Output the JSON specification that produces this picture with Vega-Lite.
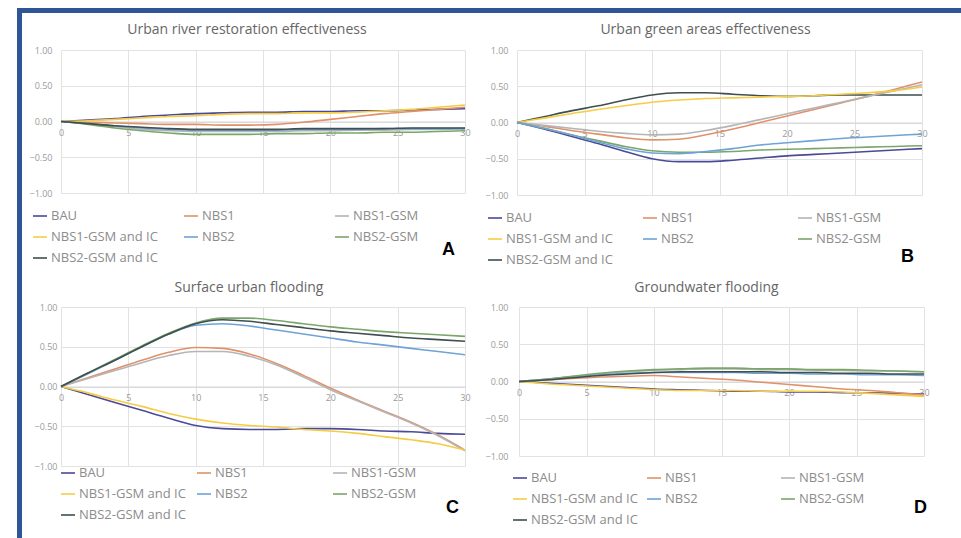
{
"$schema": "https://vega.github.io/schema/vega-lite/v6.json",
"padding": {"left": 17, "top": 8, "right": 0, "bottom": 0},
"background": "white",
"datasets": {
"A": [
{"s":"BAU","t":0,"v":0},{"s":"BAU","t":2,"v":0.02},{"s":"BAU","t":4,"v":0.04},{"s":"BAU","t":6,"v":0.07},{"s":"BAU","t":8,"v":0.09},{"s":"BAU","t":10,"v":0.11},{"s":"BAU","t":12,"v":0.12},{"s":"BAU","t":14,"v":0.13},{"s":"BAU","t":16,"v":0.13},{"s":"BAU","t":18,"v":0.14},{"s":"BAU","t":20,"v":0.14},{"s":"BAU","t":22,"v":0.15},{"s":"BAU","t":24,"v":0.15},{"s":"BAU","t":26,"v":0.16},{"s":"BAU","t":28,"v":0.17},{"s":"BAU","t":30,"v":0.18},
{"s":"NBS1","t":0,"v":0},{"s":"NBS1","t":2,"v":-0.01},{"s":"NBS1","t":4,"v":-0.02},{"s":"NBS1","t":6,"v":-0.03},{"s":"NBS1","t":8,"v":-0.04},{"s":"NBS1","t":10,"v":-0.04},{"s":"NBS1","t":12,"v":-0.05},{"s":"NBS1","t":14,"v":-0.05},{"s":"NBS1","t":16,"v":-0.04},{"s":"NBS1","t":18,"v":-0.01},{"s":"NBS1","t":20,"v":0.03},{"s":"NBS1","t":22,"v":0.07},{"s":"NBS1","t":24,"v":0.11},{"s":"NBS1","t":26,"v":0.14},{"s":"NBS1","t":28,"v":0.17},{"s":"NBS1","t":30,"v":0.2},
{"s":"NBS1-GSM","t":0,"v":0},{"s":"NBS1-GSM","t":2,"v":-0.03},{"s":"NBS1-GSM","t":4,"v":-0.07},{"s":"NBS1-GSM","t":6,"v":-0.11},{"s":"NBS1-GSM","t":8,"v":-0.13},{"s":"NBS1-GSM","t":10,"v":-0.14},{"s":"NBS1-GSM","t":12,"v":-0.14},{"s":"NBS1-GSM","t":14,"v":-0.14},{"s":"NBS1-GSM","t":16,"v":-0.14},{"s":"NBS1-GSM","t":18,"v":-0.13},{"s":"NBS1-GSM","t":20,"v":-0.13},{"s":"NBS1-GSM","t":22,"v":-0.12},{"s":"NBS1-GSM","t":24,"v":-0.12},{"s":"NBS1-GSM","t":26,"v":-0.11},{"s":"NBS1-GSM","t":28,"v":-0.11},{"s":"NBS1-GSM","t":30,"v":-0.1},
{"s":"NBS1-GSM and IC","t":0,"v":0},{"s":"NBS1-GSM and IC","t":2,"v":0.01},{"s":"NBS1-GSM and IC","t":4,"v":0.03},{"s":"NBS1-GSM and IC","t":6,"v":0.05},{"s":"NBS1-GSM and IC","t":8,"v":0.07},{"s":"NBS1-GSM and IC","t":10,"v":0.08},{"s":"NBS1-GSM and IC","t":12,"v":0.1},{"s":"NBS1-GSM and IC","t":14,"v":0.11},{"s":"NBS1-GSM and IC","t":16,"v":0.11},{"s":"NBS1-GSM and IC","t":18,"v":0.12},{"s":"NBS1-GSM and IC","t":20,"v":0.12},{"s":"NBS1-GSM and IC","t":22,"v":0.13},{"s":"NBS1-GSM and IC","t":24,"v":0.15},{"s":"NBS1-GSM and IC","t":26,"v":0.17},{"s":"NBS1-GSM and IC","t":28,"v":0.2},{"s":"NBS1-GSM and IC","t":30,"v":0.23},
{"s":"NBS2","t":0,"v":0},{"s":"NBS2","t":2,"v":-0.03},{"s":"NBS2","t":4,"v":-0.06},{"s":"NBS2","t":6,"v":-0.09},{"s":"NBS2","t":8,"v":-0.11},{"s":"NBS2","t":10,"v":-0.12},{"s":"NBS2","t":12,"v":-0.12},{"s":"NBS2","t":14,"v":-0.12},{"s":"NBS2","t":16,"v":-0.12},{"s":"NBS2","t":18,"v":-0.11},{"s":"NBS2","t":20,"v":-0.11},{"s":"NBS2","t":22,"v":-0.11},{"s":"NBS2","t":24,"v":-0.1},{"s":"NBS2","t":26,"v":-0.1},{"s":"NBS2","t":28,"v":-0.1},{"s":"NBS2","t":30,"v":-0.1},
{"s":"NBS2-GSM","t":0,"v":0},{"s":"NBS2-GSM","t":2,"v":-0.04},{"s":"NBS2-GSM","t":4,"v":-0.09},{"s":"NBS2-GSM","t":6,"v":-0.13},{"s":"NBS2-GSM","t":8,"v":-0.16},{"s":"NBS2-GSM","t":10,"v":-0.18},{"s":"NBS2-GSM","t":12,"v":-0.18},{"s":"NBS2-GSM","t":14,"v":-0.18},{"s":"NBS2-GSM","t":16,"v":-0.17},{"s":"NBS2-GSM","t":18,"v":-0.17},{"s":"NBS2-GSM","t":20,"v":-0.16},{"s":"NBS2-GSM","t":22,"v":-0.16},{"s":"NBS2-GSM","t":24,"v":-0.15},{"s":"NBS2-GSM","t":26,"v":-0.15},{"s":"NBS2-GSM","t":28,"v":-0.14},{"s":"NBS2-GSM","t":30,"v":-0.13},
{"s":"NBS2-GSM and IC","t":0,"v":0},{"s":"NBS2-GSM and IC","t":2,"v":-0.03},{"s":"NBS2-GSM and IC","t":4,"v":-0.06},{"s":"NBS2-GSM and IC","t":6,"v":-0.08},{"s":"NBS2-GSM and IC","t":8,"v":-0.1},{"s":"NBS2-GSM and IC","t":10,"v":-0.11},{"s":"NBS2-GSM and IC","t":12,"v":-0.11},{"s":"NBS2-GSM and IC","t":14,"v":-0.11},{"s":"NBS2-GSM and IC","t":16,"v":-0.11},{"s":"NBS2-GSM and IC","t":18,"v":-0.1},{"s":"NBS2-GSM and IC","t":20,"v":-0.1},{"s":"NBS2-GSM and IC","t":22,"v":-0.1},{"s":"NBS2-GSM and IC","t":24,"v":-0.1},{"s":"NBS2-GSM and IC","t":26,"v":-0.09},{"s":"NBS2-GSM and IC","t":28,"v":-0.09},{"s":"NBS2-GSM and IC","t":30,"v":-0.09}
],
"B": [
{"s":"NBS2-GSM and IC","t":0,"v":0},{"s":"NBS2-GSM and IC","t":2,"v":0.08},{"s":"NBS2-GSM and IC","t":4,"v":0.16},{"s":"NBS2-GSM and IC","t":6,"v":0.23},{"s":"NBS2-GSM and IC","t":8,"v":0.31},{"s":"NBS2-GSM and IC","t":10,"v":0.38},{"s":"NBS2-GSM and IC","t":12,"v":0.41},{"s":"NBS2-GSM and IC","t":14,"v":0.41},{"s":"NBS2-GSM and IC","t":16,"v":0.39},{"s":"NBS2-GSM and IC","t":18,"v":0.37},{"s":"NBS2-GSM and IC","t":20,"v":0.36},{"s":"NBS2-GSM and IC","t":22,"v":0.37},{"s":"NBS2-GSM and IC","t":24,"v":0.38},{"s":"NBS2-GSM and IC","t":26,"v":0.38},{"s":"NBS2-GSM and IC","t":28,"v":0.38},{"s":"NBS2-GSM and IC","t":30,"v":0.38},
{"s":"NBS1","t":0,"v":0},{"s":"NBS1","t":2,"v":-0.05},{"s":"NBS1","t":4,"v":-0.11},{"s":"NBS1","t":6,"v":-0.16},{"s":"NBS1","t":8,"v":-0.21},{"s":"NBS1","t":10,"v":-0.24},{"s":"NBS1","t":12,"v":-0.23},{"s":"NBS1","t":14,"v":-0.17},{"s":"NBS1","t":16,"v":-0.09},{"s":"NBS1","t":18,"v":0},{"s":"NBS1","t":20,"v":0.09},{"s":"NBS1","t":22,"v":0.18},{"s":"NBS1","t":24,"v":0.27},{"s":"NBS1","t":26,"v":0.36},{"s":"NBS1","t":28,"v":0.46},{"s":"NBS1","t":30,"v":0.56},
{"s":"NBS1-GSM","t":0,"v":0},{"s":"NBS1-GSM","t":2,"v":-0.04},{"s":"NBS1-GSM","t":4,"v":-0.08},{"s":"NBS1-GSM","t":6,"v":-0.12},{"s":"NBS1-GSM","t":8,"v":-0.15},{"s":"NBS1-GSM","t":10,"v":-0.17},{"s":"NBS1-GSM","t":12,"v":-0.16},{"s":"NBS1-GSM","t":14,"v":-0.11},{"s":"NBS1-GSM","t":16,"v":-0.04},{"s":"NBS1-GSM","t":18,"v":0.04},{"s":"NBS1-GSM","t":20,"v":0.12},{"s":"NBS1-GSM","t":22,"v":0.2},{"s":"NBS1-GSM","t":24,"v":0.28},{"s":"NBS1-GSM","t":26,"v":0.36},{"s":"NBS1-GSM","t":28,"v":0.44},{"s":"NBS1-GSM","t":30,"v":0.52},
{"s":"NBS1-GSM and IC","t":0,"v":0},{"s":"NBS1-GSM and IC","t":2,"v":0.06},{"s":"NBS1-GSM and IC","t":4,"v":0.12},{"s":"NBS1-GSM and IC","t":6,"v":0.18},{"s":"NBS1-GSM and IC","t":8,"v":0.23},{"s":"NBS1-GSM and IC","t":10,"v":0.28},{"s":"NBS1-GSM and IC","t":12,"v":0.31},{"s":"NBS1-GSM and IC","t":14,"v":0.33},{"s":"NBS1-GSM and IC","t":16,"v":0.34},{"s":"NBS1-GSM and IC","t":18,"v":0.35},{"s":"NBS1-GSM and IC","t":20,"v":0.36},{"s":"NBS1-GSM and IC","t":22,"v":0.37},{"s":"NBS1-GSM and IC","t":24,"v":0.39},{"s":"NBS1-GSM and IC","t":26,"v":0.41},{"s":"NBS1-GSM and IC","t":28,"v":0.44},{"s":"NBS1-GSM and IC","t":30,"v":0.49},
{"s":"BAU","t":0,"v":0},{"s":"BAU","t":2,"v":-0.09},{"s":"BAU","t":4,"v":-0.19},{"s":"BAU","t":6,"v":-0.29},{"s":"BAU","t":8,"v":-0.4},{"s":"BAU","t":10,"v":-0.5},{"s":"BAU","t":12,"v":-0.54},{"s":"BAU","t":14,"v":-0.54},{"s":"BAU","t":16,"v":-0.52},{"s":"BAU","t":18,"v":-0.49},{"s":"BAU","t":20,"v":-0.46},{"s":"BAU","t":22,"v":-0.44},{"s":"BAU","t":24,"v":-0.42},{"s":"BAU","t":26,"v":-0.4},{"s":"BAU","t":28,"v":-0.38},{"s":"BAU","t":30,"v":-0.36},
{"s":"NBS2-GSM","t":0,"v":0},{"s":"NBS2-GSM","t":2,"v":-0.08},{"s":"NBS2-GSM","t":4,"v":-0.17},{"s":"NBS2-GSM","t":6,"v":-0.25},{"s":"NBS2-GSM","t":8,"v":-0.33},{"s":"NBS2-GSM","t":10,"v":-0.39},{"s":"NBS2-GSM","t":12,"v":-0.41},{"s":"NBS2-GSM","t":14,"v":-0.41},{"s":"NBS2-GSM","t":16,"v":-0.4},{"s":"NBS2-GSM","t":18,"v":-0.38},{"s":"NBS2-GSM","t":20,"v":-0.37},{"s":"NBS2-GSM","t":22,"v":-0.36},{"s":"NBS2-GSM","t":24,"v":-0.35},{"s":"NBS2-GSM","t":26,"v":-0.34},{"s":"NBS2-GSM","t":28,"v":-0.33},{"s":"NBS2-GSM","t":30,"v":-0.32},
{"s":"NBS2","t":0,"v":0},{"s":"NBS2","t":2,"v":-0.08},{"s":"NBS2","t":4,"v":-0.17},{"s":"NBS2","t":6,"v":-0.27},{"s":"NBS2","t":8,"v":-0.36},{"s":"NBS2","t":10,"v":-0.42},{"s":"NBS2","t":12,"v":-0.43},{"s":"NBS2","t":14,"v":-0.4},{"s":"NBS2","t":16,"v":-0.36},{"s":"NBS2","t":18,"v":-0.31},{"s":"NBS2","t":20,"v":-0.28},{"s":"NBS2","t":22,"v":-0.25},{"s":"NBS2","t":24,"v":-0.22},{"s":"NBS2","t":26,"v":-0.2},{"s":"NBS2","t":28,"v":-0.18},{"s":"NBS2","t":30,"v":-0.16}
],
"C": [
{"s":"BAU","t":0,"v":0},{"s":"BAU","t":2,"v":-0.1},{"s":"BAU","t":4,"v":-0.2},{"s":"BAU","t":6,"v":-0.3},{"s":"BAU","t":8,"v":-0.4},{"s":"BAU","t":10,"v":-0.49},{"s":"BAU","t":12,"v":-0.53},{"s":"BAU","t":14,"v":-0.54},{"s":"BAU","t":16,"v":-0.54},{"s":"BAU","t":18,"v":-0.53},{"s":"BAU","t":20,"v":-0.53},{"s":"BAU","t":22,"v":-0.54},{"s":"BAU","t":24,"v":-0.56},{"s":"BAU","t":26,"v":-0.57},{"s":"BAU","t":28,"v":-0.59},{"s":"BAU","t":30,"v":-0.6},
{"s":"NBS1","t":0,"v":0},{"s":"NBS1","t":2,"v":0.11},{"s":"NBS1","t":4,"v":0.22},{"s":"NBS1","t":6,"v":0.33},{"s":"NBS1","t":8,"v":0.43},{"s":"NBS1","t":10,"v":0.49},{"s":"NBS1","t":12,"v":0.48},{"s":"NBS1","t":14,"v":0.41},{"s":"NBS1","t":16,"v":0.29},{"s":"NBS1","t":18,"v":0.14},{"s":"NBS1","t":20,"v":-0.02},{"s":"NBS1","t":22,"v":-0.17},{"s":"NBS1","t":24,"v":-0.31},{"s":"NBS1","t":26,"v":-0.45},{"s":"NBS1","t":28,"v":-0.61},{"s":"NBS1","t":30,"v":-0.8},
{"s":"NBS1-GSM","t":0,"v":0},{"s":"NBS1-GSM","t":2,"v":0.1},{"s":"NBS1-GSM","t":4,"v":0.2},{"s":"NBS1-GSM","t":6,"v":0.3},{"s":"NBS1-GSM","t":8,"v":0.39},{"s":"NBS1-GSM","t":10,"v":0.44},{"s":"NBS1-GSM","t":12,"v":0.44},{"s":"NBS1-GSM","t":14,"v":0.38},{"s":"NBS1-GSM","t":16,"v":0.27},{"s":"NBS1-GSM","t":18,"v":0.12},{"s":"NBS1-GSM","t":20,"v":-0.04},{"s":"NBS1-GSM","t":22,"v":-0.18},{"s":"NBS1-GSM","t":24,"v":-0.32},{"s":"NBS1-GSM","t":26,"v":-0.46},{"s":"NBS1-GSM","t":28,"v":-0.62},{"s":"NBS1-GSM","t":30,"v":-0.81},
{"s":"NBS1-GSM and IC","t":0,"v":0},{"s":"NBS1-GSM and IC","t":2,"v":-0.08},{"s":"NBS1-GSM and IC","t":4,"v":-0.17},{"s":"NBS1-GSM and IC","t":6,"v":-0.25},{"s":"NBS1-GSM and IC","t":8,"v":-0.34},{"s":"NBS1-GSM and IC","t":10,"v":-0.41},{"s":"NBS1-GSM and IC","t":12,"v":-0.46},{"s":"NBS1-GSM and IC","t":14,"v":-0.49},{"s":"NBS1-GSM and IC","t":16,"v":-0.51},{"s":"NBS1-GSM and IC","t":18,"v":-0.54},{"s":"NBS1-GSM and IC","t":20,"v":-0.56},{"s":"NBS1-GSM and IC","t":22,"v":-0.59},{"s":"NBS1-GSM and IC","t":24,"v":-0.63},{"s":"NBS1-GSM and IC","t":26,"v":-0.67},{"s":"NBS1-GSM and IC","t":28,"v":-0.72},{"s":"NBS1-GSM and IC","t":30,"v":-0.8},
{"s":"NBS2","t":0,"v":0},{"s":"NBS2","t":2,"v":0.16},{"s":"NBS2","t":4,"v":0.33},{"s":"NBS2","t":6,"v":0.5},{"s":"NBS2","t":8,"v":0.66},{"s":"NBS2","t":10,"v":0.77},{"s":"NBS2","t":12,"v":0.79},{"s":"NBS2","t":14,"v":0.76},{"s":"NBS2","t":16,"v":0.71},{"s":"NBS2","t":18,"v":0.66},{"s":"NBS2","t":20,"v":0.61},{"s":"NBS2","t":22,"v":0.56},{"s":"NBS2","t":24,"v":0.52},{"s":"NBS2","t":26,"v":0.48},{"s":"NBS2","t":28,"v":0.44},{"s":"NBS2","t":30,"v":0.4},
{"s":"NBS2-GSM","t":0,"v":0},{"s":"NBS2-GSM","t":2,"v":0.17},{"s":"NBS2-GSM","t":4,"v":0.34},{"s":"NBS2-GSM","t":6,"v":0.51},{"s":"NBS2-GSM","t":8,"v":0.67},{"s":"NBS2-GSM","t":10,"v":0.8},{"s":"NBS2-GSM","t":12,"v":0.86},{"s":"NBS2-GSM","t":14,"v":0.86},{"s":"NBS2-GSM","t":16,"v":0.83},{"s":"NBS2-GSM","t":18,"v":0.79},{"s":"NBS2-GSM","t":20,"v":0.75},{"s":"NBS2-GSM","t":22,"v":0.72},{"s":"NBS2-GSM","t":24,"v":0.69},{"s":"NBS2-GSM","t":26,"v":0.67},{"s":"NBS2-GSM","t":28,"v":0.65},{"s":"NBS2-GSM","t":30,"v":0.63},
{"s":"NBS2-GSM and IC","t":0,"v":0},{"s":"NBS2-GSM and IC","t":2,"v":0.17},{"s":"NBS2-GSM and IC","t":4,"v":0.33},{"s":"NBS2-GSM and IC","t":6,"v":0.5},{"s":"NBS2-GSM and IC","t":8,"v":0.66},{"s":"NBS2-GSM and IC","t":10,"v":0.79},{"s":"NBS2-GSM and IC","t":12,"v":0.84},{"s":"NBS2-GSM and IC","t":14,"v":0.82},{"s":"NBS2-GSM and IC","t":16,"v":0.78},{"s":"NBS2-GSM and IC","t":18,"v":0.74},{"s":"NBS2-GSM and IC","t":20,"v":0.7},{"s":"NBS2-GSM and IC","t":22,"v":0.67},{"s":"NBS2-GSM and IC","t":24,"v":0.64},{"s":"NBS2-GSM and IC","t":26,"v":0.61},{"s":"NBS2-GSM and IC","t":28,"v":0.59},{"s":"NBS2-GSM and IC","t":30,"v":0.57}
],
"D": [
{"s":"BAU","t":0,"v":0},{"s":"BAU","t":2,"v":-0.02},{"s":"BAU","t":4,"v":-0.04},{"s":"BAU","t":6,"v":-0.06},{"s":"BAU","t":8,"v":-0.08},{"s":"BAU","t":10,"v":-0.1},{"s":"BAU","t":12,"v":-0.11},{"s":"BAU","t":14,"v":-0.12},{"s":"BAU","t":16,"v":-0.13},{"s":"BAU","t":18,"v":-0.13},{"s":"BAU","t":20,"v":-0.14},{"s":"BAU","t":22,"v":-0.14},{"s":"BAU","t":24,"v":-0.15},{"s":"BAU","t":26,"v":-0.15},{"s":"BAU","t":28,"v":-0.16},{"s":"BAU","t":30,"v":-0.17},
{"s":"NBS1","t":0,"v":0},{"s":"NBS1","t":2,"v":0.02},{"s":"NBS1","t":4,"v":0.04},{"s":"NBS1","t":6,"v":0.06},{"s":"NBS1","t":8,"v":0.07},{"s":"NBS1","t":10,"v":0.08},{"s":"NBS1","t":12,"v":0.06},{"s":"NBS1","t":14,"v":0.04},{"s":"NBS1","t":16,"v":0.02},{"s":"NBS1","t":18,"v":-0.01},{"s":"NBS1","t":20,"v":-0.04},{"s":"NBS1","t":22,"v":-0.07},{"s":"NBS1","t":24,"v":-0.1},{"s":"NBS1","t":26,"v":-0.12},{"s":"NBS1","t":28,"v":-0.15},{"s":"NBS1","t":30,"v":-0.18},
{"s":"NBS1-GSM","t":0,"v":0},{"s":"NBS1-GSM","t":2,"v":0.03},{"s":"NBS1-GSM","t":4,"v":0.07},{"s":"NBS1-GSM","t":6,"v":0.1},{"s":"NBS1-GSM","t":8,"v":0.13},{"s":"NBS1-GSM","t":10,"v":0.15},{"s":"NBS1-GSM","t":12,"v":0.16},{"s":"NBS1-GSM","t":14,"v":0.17},{"s":"NBS1-GSM","t":16,"v":0.17},{"s":"NBS1-GSM","t":18,"v":0.16},{"s":"NBS1-GSM","t":20,"v":0.16},{"s":"NBS1-GSM","t":22,"v":0.15},{"s":"NBS1-GSM","t":24,"v":0.15},{"s":"NBS1-GSM","t":26,"v":0.14},{"s":"NBS1-GSM","t":28,"v":0.14},{"s":"NBS1-GSM","t":30,"v":0.13},
{"s":"NBS1-GSM and IC","t":0,"v":0},{"s":"NBS1-GSM and IC","t":2,"v":-0.03},{"s":"NBS1-GSM and IC","t":4,"v":-0.05},{"s":"NBS1-GSM and IC","t":6,"v":-0.07},{"s":"NBS1-GSM and IC","t":8,"v":-0.09},{"s":"NBS1-GSM and IC","t":10,"v":-0.11},{"s":"NBS1-GSM and IC","t":12,"v":-0.12},{"s":"NBS1-GSM and IC","t":14,"v":-0.12},{"s":"NBS1-GSM and IC","t":16,"v":-0.12},{"s":"NBS1-GSM and IC","t":18,"v":-0.13},{"s":"NBS1-GSM and IC","t":20,"v":-0.13},{"s":"NBS1-GSM and IC","t":22,"v":-0.13},{"s":"NBS1-GSM and IC","t":24,"v":-0.14},{"s":"NBS1-GSM and IC","t":26,"v":-0.16},{"s":"NBS1-GSM and IC","t":28,"v":-0.18},{"s":"NBS1-GSM and IC","t":30,"v":-0.2},
{"s":"NBS2","t":0,"v":0},{"s":"NBS2","t":2,"v":0.03},{"s":"NBS2","t":4,"v":0.06},{"s":"NBS2","t":6,"v":0.09},{"s":"NBS2","t":8,"v":0.11},{"s":"NBS2","t":10,"v":0.12},{"s":"NBS2","t":12,"v":0.12},{"s":"NBS2","t":14,"v":0.12},{"s":"NBS2","t":16,"v":0.12},{"s":"NBS2","t":18,"v":0.11},{"s":"NBS2","t":20,"v":0.11},{"s":"NBS2","t":22,"v":0.1},{"s":"NBS2","t":24,"v":0.1},{"s":"NBS2","t":26,"v":0.09},{"s":"NBS2","t":28,"v":0.09},{"s":"NBS2","t":30,"v":0.08},
{"s":"NBS2-GSM","t":0,"v":0},{"s":"NBS2-GSM","t":2,"v":0.03},{"s":"NBS2-GSM","t":4,"v":0.07},{"s":"NBS2-GSM","t":6,"v":0.11},{"s":"NBS2-GSM","t":8,"v":0.14},{"s":"NBS2-GSM","t":10,"v":0.16},{"s":"NBS2-GSM","t":12,"v":0.17},{"s":"NBS2-GSM","t":14,"v":0.18},{"s":"NBS2-GSM","t":16,"v":0.18},{"s":"NBS2-GSM","t":18,"v":0.17},{"s":"NBS2-GSM","t":20,"v":0.17},{"s":"NBS2-GSM","t":22,"v":0.16},{"s":"NBS2-GSM","t":24,"v":0.16},{"s":"NBS2-GSM","t":26,"v":0.15},{"s":"NBS2-GSM","t":28,"v":0.14},{"s":"NBS2-GSM","t":30,"v":0.13},
{"s":"NBS2-GSM and IC","t":0,"v":0},{"s":"NBS2-GSM and IC","t":2,"v":0.02},{"s":"NBS2-GSM and IC","t":4,"v":0.05},{"s":"NBS2-GSM and IC","t":6,"v":0.08},{"s":"NBS2-GSM and IC","t":8,"v":0.1},{"s":"NBS2-GSM and IC","t":10,"v":0.12},{"s":"NBS2-GSM and IC","t":12,"v":0.13},{"s":"NBS2-GSM and IC","t":14,"v":0.13},{"s":"NBS2-GSM and IC","t":16,"v":0.13},{"s":"NBS2-GSM and IC","t":18,"v":0.13},{"s":"NBS2-GSM and IC","t":20,"v":0.12},{"s":"NBS2-GSM and IC","t":22,"v":0.12},{"s":"NBS2-GSM and IC","t":24,"v":0.11},{"s":"NBS2-GSM and IC","t":26,"v":0.11},{"s":"NBS2-GSM and IC","t":28,"v":0.1},{"s":"NBS2-GSM and IC","t":30,"v":0.1}
]
},
"resolve": {"scale": {"color": "independent"}, "legend": {"color": "independent"}},
"spacing": 0,
"vconcat": [
{"width": 944, "height": 5, "view": {"fill": "#2F5597", "stroke": null}, "data": {"values": [{}]}, "mark": {"type": "point", "opacity": 0, "size": 0}, "encoding": {}},
{"spacing": 7,
 "resolve": {"scale": {"color": "independent"}, "legend": {"color": "independent"}},
 "hconcat": [
 {"width": 5, "height": 525, "view": {"fill": "#2F5597", "stroke": null}, "data": {"values": [{}]}, "mark": {"type": "point", "opacity": 0, "size": 0}, "encoding": {}},
 {"spacing": 0,
  "resolve": {"scale": {"color": "independent"}, "legend": {"color": "independent"}},
  "vconcat": [
  {"width": 1, "height": 10, "data": {"values": [{}]}, "mark": {"type": "point", "opacity": 0, "size": 0}, "encoding": {}},
  {"spacing": 14,
   "resolve": {"scale": {"color": "independent"}, "legend": {"color": "independent"}},
   "vconcat": [
   {"spacing": 14,
    "resolve": {"scale": {"color": "independent"}, "legend": {"color": "independent"}},
    "hconcat": [
    {"width": 404, "height": 143,
     "title": {"text": "Urban river restoration effectiveness", "dx": -16, "offset": 9},
     "data": {"name": "A"},
     "mark": {"type": "line", "interpolate": "monotone", "strokeWidth": 1.6},
     "encoding": {
      "x": {"field": "t", "type": "quantitative", "scale": {"domain": [0, 30], "nice": false}, "axis": {"values": [0,5,10,15,20,25,30], "offset": -71.5}},
      "y": {"field": "v", "type": "quantitative", "scale": {"domain": [-1, 1], "nice": false}, "axis": {"values": [-1,-0.5,0,0.5,1], "format": ".2f", "labelPadding": 9}},
      "color": {"field": "s", "type": "nominal",
       "scale": {"domain": ["BAU","NBS1","NBS1-GSM","NBS1-GSM and IC","NBS2","NBS2-GSM","NBS2-GSM and IC"], "range": ["#4A4A98","#E0916A","#B5B5B5","#F5CC45","#6FA3D8","#7BA66A","#3F4F4F"]},
       "legend": {"title": "A", "orient": "none", "legendX": -29, "legendY": 158, "columnPadding": 22, "titlePadding": 24, "titleLineHeight": 26}}
     }},
    {"width": 405, "height": 145,
     "title": {"text": "Urban green areas effectiveness", "dx": -14, "offset": 9},
     "data": {"name": "B"},
     "mark": {"type": "line", "interpolate": "monotone", "strokeWidth": 1.6},
     "encoding": {
      "x": {"field": "t", "type": "quantitative", "scale": {"domain": [0, 30], "nice": false}, "axis": {"values": [0,5,10,15,20,25,30], "offset": -72.5}},
      "y": {"field": "v", "type": "quantitative", "scale": {"domain": [-1, 1], "nice": false}, "axis": {"values": [-1,-0.5,0,0.5,1], "format": ".2f", "labelPadding": 9}},
      "color": {"field": "s", "type": "nominal",
       "scale": {"domain": ["BAU","NBS1","NBS1-GSM","NBS1-GSM and IC","NBS2","NBS2-GSM","NBS2-GSM and IC"], "range": ["#4A4A98","#E0916A","#B5B5B5","#F5CC45","#6FA3D8","#7BA66A","#3F4F4F"]},
       "legend": {"title": "B", "orient": "none", "legendX": -30, "legendY": 160, "columnPadding": 26, "titlePadding": 20, "titleLineHeight": 36}}
     }}
    ]},
   {"spacing": 14,
    "resolve": {"scale": {"color": "independent"}, "legend": {"color": "independent"}},
    "hconcat": [
    {"width": 404, "height": 159,
     "title": {"text": "Surface urban flooding", "dx": -14, "offset": 8},
     "data": {"name": "C"},
     "mark": {"type": "line", "interpolate": "monotone", "strokeWidth": 1.6},
     "encoding": {
      "x": {"field": "t", "type": "quantitative", "scale": {"domain": [0, 30], "nice": false}, "axis": {"values": [0,5,10,15,20,25,30], "offset": -79.5}},
      "y": {"field": "v", "type": "quantitative", "scale": {"domain": [-1, 1], "nice": false}, "axis": {"values": [-1,-0.5,0,0.5,1], "format": ".2f", "labelPadding": 4}},
      "color": {"field": "s", "type": "nominal",
       "scale": {"domain": ["BAU","NBS1","NBS1-GSM","NBS1-GSM and IC","NBS2","NBS2-GSM","NBS2-GSM and IC"], "range": ["#4A4A98","#E0916A","#B5B5B5","#F5CC45","#6FA3D8","#7BA66A","#3F4F4F"]},
       "legend": {"title": "C", "orient": "none", "legendX": -1, "legendY": 158, "columnPadding": 7, "titlePadding": 30, "titleLineHeight": 28}}
     }},
    {"width": 405, "height": 149,
     "title": {"text": "Groundwater flooding", "dx": -15, "offset": 8},
     "data": {"name": "D"},
     "mark": {"type": "line", "interpolate": "monotone", "strokeWidth": 1.6},
     "encoding": {
      "x": {"field": "t", "type": "quantitative", "scale": {"domain": [0, 30], "nice": false}, "axis": {"values": [0,5,10,15,20,25,30], "offset": -74.5}},
      "y": {"field": "v", "type": "quantitative", "scale": {"domain": [-1, 1], "nice": false}, "axis": {"values": [-1,-0.5,0,0.5,1], "format": ".2f", "labelPadding": 11}},
      "color": {"field": "s", "type": "nominal",
       "scale": {"domain": ["BAU","NBS1","NBS1-GSM","NBS1-GSM and IC","NBS2","NBS2-GSM","NBS2-GSM and IC"], "range": ["#4A4A98","#E0916A","#B5B5B5","#F5CC45","#6FA3D8","#7BA66A","#3F4F4F"]},
       "legend": {"title": "D", "orient": "none", "legendX": -7, "legendY": 163, "columnPadding": 5, "titlePadding": 50, "titleLineHeight": 18}}
     }}
    ]}
   ]}
  ]}
 ]}
],
"config": {
 "view": {"stroke": null},
 "font": "Open Sans",
 "title": {"fontSize": 14, "fontWeight": "normal", "color": "#666666", "anchor": "middle", "font": "Open Sans"},
 "axis": {"ticks": false, "domain": false, "grid": true, "gridColor": "#E2E2E2", "labelColor": "#9A9A9A", "labelFontSize": 9, "labelFont": "Open Sans", "title": null},
 "axisX": {"domain": true, "domainColor": "#D4D4D4", "labelPadding": 7, "labelFlush": false},
 "legend": {"direction": "horizontal", "columns": 3, "gridAlign": "all", "symbolType": "stroke", "symbolSize": 196, "symbolStrokeWidth": 1.6, "labelFontSize": 13, "labelColor": "#8C8C8C", "labelFont": "Open Sans", "labelOffset": 3, "rowPadding": 6, "padding": 0, "titleOrient": "right", "titleFontSize": 18, "titleFont": "Liberation Sans", "titleFontWeight": "bold", "titleColor": "#000000", "titleAnchor": "middle", "titleBaseline": "line-top", "labelLimit": 250}
}
}
